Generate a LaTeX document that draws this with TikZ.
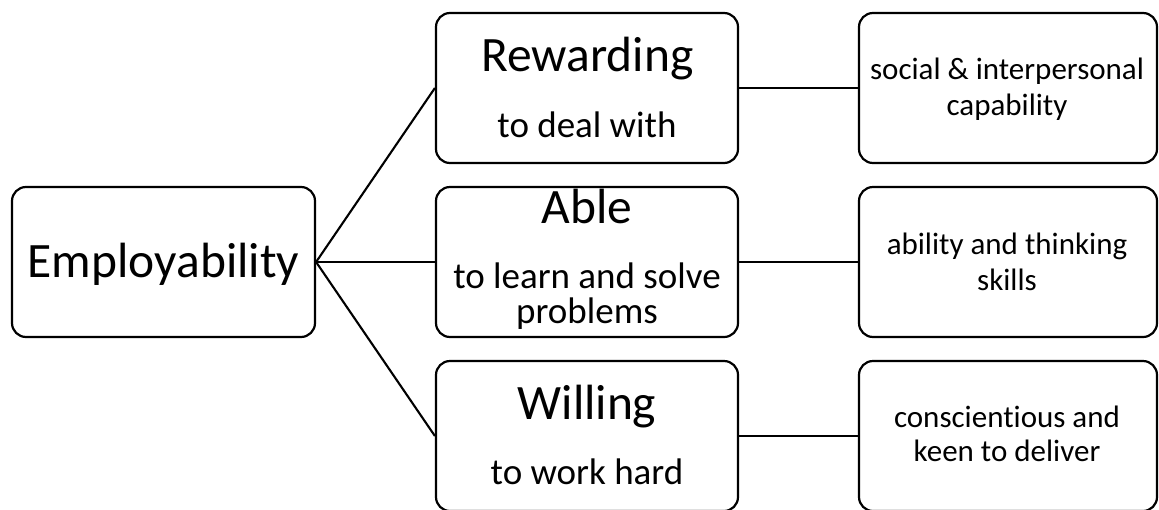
\documentclass[tikz,border=0pt]{standalone}
\usepackage{fontspec}
\setmainfont{Carlito}[RawFeature={-liga;-clig}]
\begin{document}
\begin{tikzpicture}[x=1pt,y=-1pt,
  box/.style={draw, line width=2.2pt, rounded corners=14pt,
              minimum height=150pt, inner sep=0pt},
  link/.style={line width=2.1pt},
  head/.style={font=\fontsize{49.5}{50}\selectfont, inner sep=0pt, anchor=base},
  sub/.style={font=\fontsize{37}{36}\selectfont, inner sep=0pt, anchor=base},
  note/.style={font=\fontsize{31}{34}\selectfont, inner sep=0pt, anchor=base}]
  \useasboundingbox (0,0) rectangle (1159,509);
  \clip (0,0) rectangle (1159,509);

  % root
  \node[box, minimum width=303pt] (emp) at (163.5,262) {};
  % middle column
  \node[box, minimum width=302pt] (rew)  at (587,88)  {};
  \node[box, minimum width=302pt] (able) at (587,262) {};
  \node[box, minimum width=302pt] (will) at (587,436) {};
  % right column
  \node[box, minimum width=298pt] (soc)  at (1008,88)  {};
  \node[box, minimum width=298pt] (abil) at (1008,262) {};
  \node[box, minimum width=298pt] (cons) at (1008,436) {};

  % connectors
  \draw[link] (emp.east) -- (rew.west);
  \draw[link] (emp.east) -- (able.west);
  \draw[link] (emp.east) -- (will.west);
  \draw[link] (rew.east)  -- (soc.west);
  \draw[link] (able.east) -- (abil.west);
  \draw[link] (will.east) -- (cons.west);

  % labels
  \node[head] (tEmp) at (163.5,277) {Employability};

  \node[head] (tRew)  at (587.5,71)  {Rewarding};
  \node[sub]  (sRew)  at (587,137) {to deal with};

  \node[head] (tAble) at (587,223) {Able};
  \node[sub]  (sAble1) at (587,288) {to learn and solve};
  \node[sub]  (sAble2) at (587,323.5) {problems};

  \node[head] (tWill) at (587,419) {Willing};
  \node[sub]  (sWill) at (587,484) {to work hard};

  \node[note] (nSoc1)  at (1007,79.5) {social \& interpersonal};
  \node[note] (nSoc2)  at (1007,115)  {capability};
  \node[note] (nAbil1) at (1007,254)  {ability and thinking};
  \node[note] (nAbil2) at (1007,290)  {skills};
  \node[note] (nCons1) at (1007,427)  {conscientious and};
  \node[note] (nCons2) at (1007,461)  {keen to deliver};
\end{tikzpicture}
\end{document}
